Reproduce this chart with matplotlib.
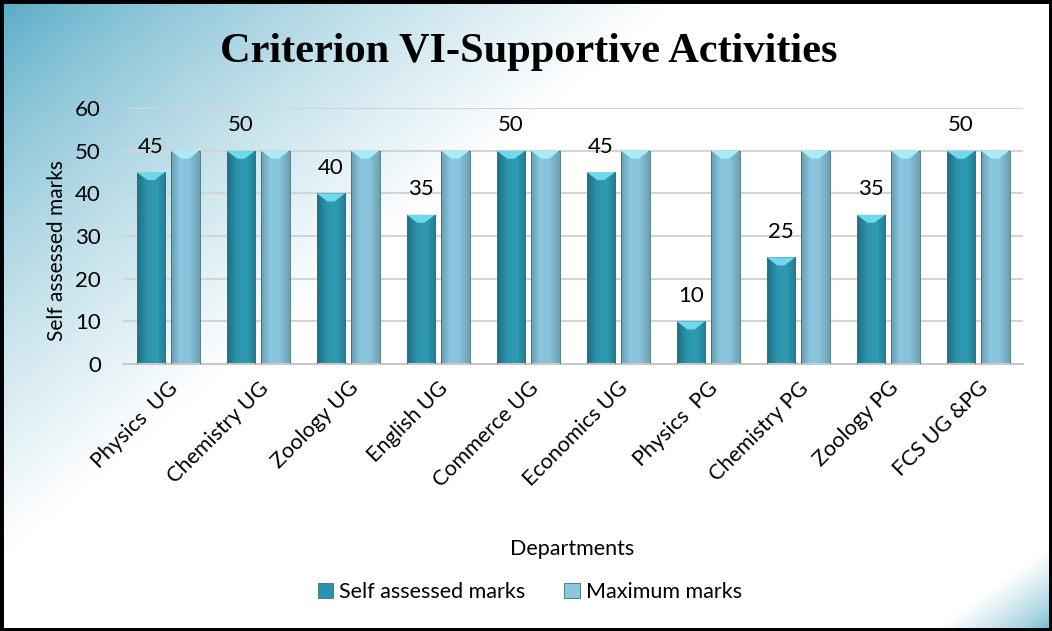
import numpy as np
import matplotlib
matplotlib.use("Agg")
import matplotlib.pyplot as plt
from matplotlib.colors import LinearSegmentedColormap
from matplotlib.patches import Rectangle, Polygon

departments = ["Physics  UG", "Chemistry UG", "Zoology UG", "English UG", "Commerce UG",
               "Economics UG", "Physics  PG", "Chemistry PG", "Zoology PG", "FCS UG &PG"]
self_marks = [45, 50, 40, 35, 50, 45, 10, 25, 35, 50]
max_marks = [50, 50, 50, 50, 50, 50, 50, 50, 50, 50]

plt.rcParams['font.family'] = ['Lato', 'DejaVu Sans']

W, H = 1052, 631
fig = plt.figure(figsize=(W / 100, H / 100), dpi=100)

# background: teal wash from the top-left corner and a small one bottom-right
bg = fig.add_axes([0, 0, 1, 1], zorder=-10)
xx, yy = np.meshgrid(np.arange(W), np.arange(H))
s1 = np.clip(xx / 680 + yy / 560, 0, 1) ** 0.75
s2 = np.clip((W - xx) / 120 + (H - yy) / 88, 0, 1) ** 0.6
s = np.minimum(s1, s2)
teal = np.array([0.32, 0.66, 0.77])
img = teal[None, None, :] * (1 - s[..., None]) + 1.0 * s[..., None]
bg.imshow(img, aspect="auto", extent=[0, 1, 0, 1])
bg.axis("off")
fig.patches.append(Rectangle((0, 0), 1, 1, transform=fig.transFigure, fill=False,
                             edgecolor="black", lw=5, zorder=100))

ax = fig.add_axes([123 / W, (H - 364) / H, 900 / W, 256 / H])
ax.patch.set_alpha(0)

x = np.arange(len(departments))
w = 0.32
off = 0.19

cm_self = LinearSegmentedColormap.from_list("s", ["#1e6f82", "#2b93ab", "#2f9bb3", "#237d92"])
cm_max = LinearSegmentedColormap.from_list("m", ["#6a9eb2", "#8ac7de", "#86c2d9", "#6f9fb1"])


def fancy_bars(xs, vals, cmap, cap):
    bars = ax.bar(xs, vals, w, color="none", edgecolor="#3a6f7c", lw=0.6, zorder=3)
    grad = np.linspace(0, 1, 64).reshape(1, -1)
    for b in bars:
        x0, bw, top = b.get_x(), b.get_width(), b.get_height()
        im = ax.imshow(grad, cmap=cmap, aspect="auto", extent=[x0, x0 + bw, 0, top], zorder=2)
        im.set_clip_path(b)
        ax.add_patch(Polygon([[x0, top], [x0 + bw, top], [x0 + bw * 0.62, top - 1.9],
                              [x0 + bw * 0.38, top - 1.9]],
                             closed=True, color=cap, zorder=4, lw=0))
    return bars


fancy_bars(x - off, self_marks, cm_self, "#6fd9ec")
fancy_bars(x + off, max_marks, cm_max, "#a8ecf6")

for xi, v in zip(x - off, self_marks):
    ax.annotate(str(v), (xi, v), xytext=(0, 11), textcoords="offset points",
                ha="center", va="bottom", fontsize=16)

ax.set_xlim(-0.5, 9.5)
ax.set_ylim(0, 60)
ax.set_yticks(range(0, 61, 10))
ax.yaxis.grid(True, color="#d4d4d4", lw=1.5)
ax.set_axisbelow(True)
for sp in ["top", "right", "left"]:
    ax.spines[sp].set_visible(False)
ax.spines["bottom"].set_color("#c8c8c8")
ax.spines["bottom"].set_linewidth(1.5)
ax.tick_params(axis="y", length=0, labelsize=16, pad=16)
ax.set_xticks(x)
ax.set_xticklabels(departments, rotation=45, ha="right", rotation_mode="anchor")
ax.tick_params(axis="x", length=0, labelsize=15.5, pad=10)
ax.set_ylabel("Self assessed marks", fontsize=15)
ax.yaxis.set_label_coords(-56 / 900, 0.445)

fig.text(572 / W, 1 - 549 / H, "Departments", ha="center", va="center", fontsize=15.5)
fig.text(529 / W, 1 - 52 / H, "Criterion VI-Supportive Activities", ha="center", va="center",
         fontsize=30.5, fontweight="bold", family="Liberation Serif")

h1 = Rectangle((0, 0), 1, 1, facecolor="#2b93ab", edgecolor="#3a6f7c", lw=0.6)
h2 = Rectangle((0, 0), 1, 1, facecolor="#8ac7de", edgecolor="#3a6f7c", lw=0.6)
fig.legend([h1, h2], ["Self assessed marks", "Maximum marks"], loc="center",
           bbox_to_anchor=(530 / W, 1 - 592 / H), ncol=2, frameon=False, fontsize=15.5,
           handlelength=0.7, handleheight=0.7, handletextpad=0.3, columnspacing=1.8)

fig.savefig("out.png", dpi=100)
